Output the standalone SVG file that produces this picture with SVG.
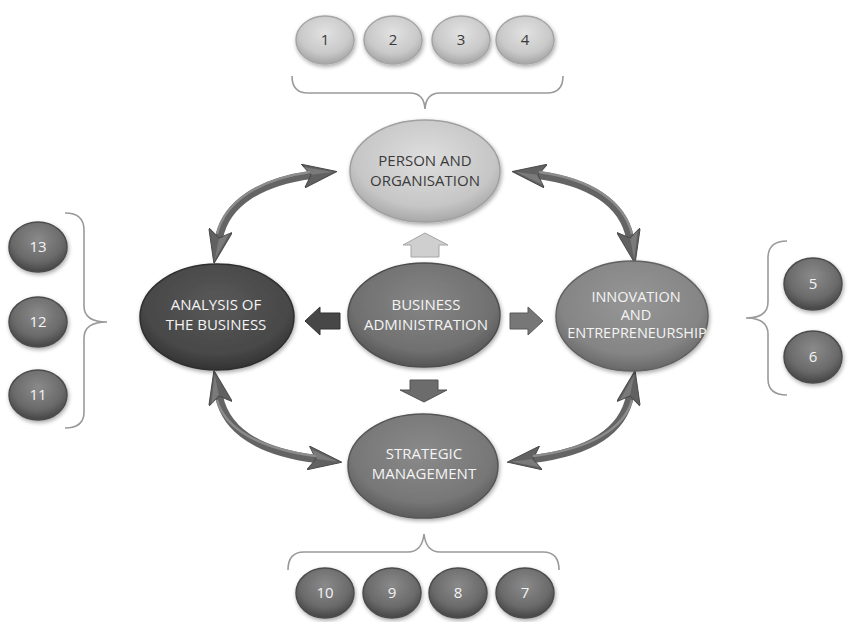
<svg xmlns="http://www.w3.org/2000/svg" width="854" height="622" viewBox="0 0 854 622">
  <defs>
    <radialGradient id="gLight" cx="50%" cy="38%" r="62%">
      <stop offset="0" stop-color="#dedede"/>
      <stop offset="0.75" stop-color="#c6c6c6"/>
      <stop offset="1" stop-color="#a8a8a8"/>
    </radialGradient>
    <radialGradient id="gMid" cx="50%" cy="38%" r="62%">
      <stop offset="0" stop-color="#858585"/>
      <stop offset="0.75" stop-color="#707070"/>
      <stop offset="1" stop-color="#555555"/>
    </radialGradient>
    <radialGradient id="gInno" cx="50%" cy="38%" r="62%">
      <stop offset="0" stop-color="#969696"/>
      <stop offset="0.75" stop-color="#858585"/>
      <stop offset="1" stop-color="#686868"/>
    </radialGradient>
    <radialGradient id="gStrat" cx="50%" cy="38%" r="62%">
      <stop offset="0" stop-color="#8a8a8a"/>
      <stop offset="0.75" stop-color="#777777"/>
      <stop offset="1" stop-color="#5c5c5c"/>
    </radialGradient>
    <radialGradient id="gDark" cx="50%" cy="38%" r="62%">
      <stop offset="0" stop-color="#585858"/>
      <stop offset="0.75" stop-color="#484848"/>
      <stop offset="1" stop-color="#333333"/>
    </radialGradient>
    <radialGradient id="gBall" cx="50%" cy="35%" r="62%">
      <stop offset="0" stop-color="#8a8a8a"/>
      <stop offset="0.7" stop-color="#6a6a6a"/>
      <stop offset="1" stop-color="#4a4a4a"/>
    </radialGradient>
    <radialGradient id="gBallLight" cx="50%" cy="35%" r="62%">
      <stop offset="0" stop-color="#e2e2e2"/>
      <stop offset="0.7" stop-color="#c9c9c9"/>
      <stop offset="1" stop-color="#aaaaaa"/>
    </radialGradient>
    <filter id="shadow" x="-20%" y="-20%" width="140%" height="150%">
      <feGaussianBlur in="SourceAlpha" stdDeviation="2"/>
      <feOffset dx="1" dy="2" result="b"/>
      <feComponentTransfer><feFuncA type="linear" slope="0.35"/></feComponentTransfer>
      <feMerge><feMergeNode/><feMergeNode in="SourceGraphic"/></feMerge>
    </filter>
    <!-- barbed head shared by both ends of every curved double arrow -->
    <marker id="head" viewBox="0 0 34 24" refX="8" refY="12" markerWidth="34" markerHeight="24" markerUnits="userSpaceOnUse" orient="auto-start-reverse">
      <path d="M0,0 L34,12 L0,24 L8,12 Z" fill="#616161" stroke="#4a4a4a" stroke-width="1"/>
      <path d="M2,3 L30,12 L9,12 Z" fill="#8a8a8a" opacity="0.6"/>
    </marker>
  </defs>
  <style>
    .brace { fill: none; stroke: #9a9a9a; stroke-width: 1.6; }
    .curve { fill: none; stroke: #646464; stroke-width: 8; marker-start: url(#head); marker-end: url(#head); }
    .curve-hi { fill: none; stroke: #8c8c8c; stroke-width: 2.5; }
    .node { stroke-width: 1.5; filter: url(#shadow); }
    .lbl { font-family: "Open Sans", "Noto Sans", "Liberation Sans", sans-serif; font-size: 15px; text-anchor: middle; }
    .lbl.sm { font-size: 14.5px; }
    .w { fill: #f4f4f4; }
    .d { fill: #3a3a3a; }
    .num { font-family: "Open Sans", "Noto Sans", "Liberation Sans", sans-serif; font-size: 15px; text-anchor: middle; }
  </style>

  <rect width="854" height="622" fill="#ffffff"/>

  <!-- braces -->
  <g id="braces">
    <path class="brace" d="M292,76 Q292,93 308,93 L410,93 Q424,93 425,109 Q426,93 440,93 L547,93 Q563,93 563,76"/>
    <path class="brace" d="M288,570 Q288,552 304,552 L408,552 Q422,552 424,534 Q426,552 440,552 L543,552 Q559,552 559,570"/>
    <path class="brace" d="M65,213 Q84,213 84,230 L84,306 Q84,322 107,322 Q84,322 84,338 L84,412 Q84,428 65,428"/>
    <path class="brace" d="M787,241 Q768,241 768,258 L768,302 Q768,318 746,318 Q768,318 768,334 L768,379 Q768,395 787,395"/>
  </g>

  <!-- connectors -->
  <g id="connectors">
    <path class="curve" d="M219,238 C226,203 260,182 311,175"/>
    <path class="curve" d="M630,238 C623,203 590,182 538,175"/>
    <path class="curve" d="M219,396 C226,431 260,452 316,459"/>
    <path class="curve" d="M630,396 C623,431 590,452 533,459"/>
    <path class="curve-hi" d="M217,234 C225,201 260,179 310,172"/>
    <path class="curve-hi" d="M632,234 C624,201 590,179 539,172"/>
    <path class="curve-hi" d="M217,400 C225,429 260,449 316,456"/>
    <path class="curve-hi" d="M632,400 C624,429 590,449 533,456"/>
    <!-- block arrows around the centre -->
    <path d="M425,233 L448,245 L439,245 L439,257 L411,257 L411,245 L403,245 Z" fill="#cfcfcf" stroke="#a5a5a5" stroke-width="1"/>
    <path d="M305,321 L320,307 L320,313 L340,313 L340,329 L320,329 L320,335 Z" fill="#474747" stroke="#333" stroke-width="1"/>
    <path d="M543,321 L528,307 L528,313 L510,313 L510,329 L528,329 L528,335 Z" fill="#777777" stroke="#5a5a5a" stroke-width="1"/>
    <path d="M424,402 L447,390 L438,390 L438,380 L410,380 L410,390 L400,390 Z" fill="#6c6c6c" stroke="#525252" stroke-width="1"/>
  </g>

  <!-- main nodes -->
  <g id="person">
    <ellipse class="node" cx="425" cy="171" rx="75" ry="51" fill="url(#gLight)" stroke="#a0a0a0"/>
    <text class="lbl d" x="425" y="166">PERSON AND</text>
    <text class="lbl d" x="425" y="186">ORGANISATION</text>
  </g>
  <g id="analysis">
    <ellipse class="node" cx="217" cy="317" rx="77" ry="53" fill="url(#gDark)" stroke="#2e2e2e"/>
    <text class="lbl w" x="216" y="310">ANALYSIS OF</text>
    <text class="lbl w" x="216" y="330">THE BUSINESS</text>
  </g>
  <g id="business">
    <ellipse class="node" cx="424" cy="315" rx="76" ry="52" fill="url(#gMid)" stroke="#4e4e4e"/>
    <text class="lbl w" x="426" y="310">BUSINESS</text>
    <text class="lbl w" x="426" y="330">ADMINISTRATION</text>
  </g>
  <g id="innovation">
    <ellipse class="node" cx="632" cy="316" rx="76" ry="55" fill="url(#gInno)" stroke="#626262"/>
    <text class="lbl sm w" x="636" y="302">INNOVATION</text>
    <text class="lbl sm w" x="636" y="320">AND</text>
    <text class="lbl sm w" x="637" y="338">ENTREPRENEURSHIP</text>
  </g>
  <g id="strategic">
    <ellipse class="node" cx="423" cy="466" rx="75" ry="52" fill="url(#gStrat)" stroke="#565656"/>
    <text class="lbl w" x="424" y="459">STRATEGIC</text>
    <text class="lbl w" x="424" y="479">MANAGEMENT</text>
  </g>

  <!-- numbered items -->
  <g id="n1"><ellipse class="node" cx="325" cy="40" rx="29" ry="24" fill="url(#gBallLight)" stroke="#a5a5a5"/><text class="num d" x="325" y="45">1</text></g>
  <g id="n2"><ellipse class="node" cx="393" cy="40" rx="29" ry="24" fill="url(#gBallLight)" stroke="#a5a5a5"/><text class="num d" x="393" y="45">2</text></g>
  <g id="n3"><ellipse class="node" cx="461" cy="40" rx="29" ry="24" fill="url(#gBallLight)" stroke="#a5a5a5"/><text class="num d" x="461" y="45">3</text></g>
  <g id="n4"><ellipse class="node" cx="525" cy="40" rx="29" ry="24" fill="url(#gBallLight)" stroke="#a5a5a5"/><text class="num d" x="525" y="45">4</text></g>

  <g id="n5"><ellipse class="node" cx="813" cy="284" rx="29" ry="26" fill="url(#gBall)" stroke="#4c4c4c"/><text class="num w" x="813" y="289">5</text></g>
  <g id="n6"><ellipse class="node" cx="813" cy="357" rx="29" ry="26" fill="url(#gBall)" stroke="#4c4c4c"/><text class="num w" x="813" y="362">6</text></g>

  <g id="n7"><ellipse class="node" cx="525" cy="593" rx="29" ry="25" fill="url(#gBall)" stroke="#4c4c4c"/><text class="num w" x="525" y="598">7</text></g>
  <g id="n8"><ellipse class="node" cx="458" cy="593" rx="29" ry="25" fill="url(#gBall)" stroke="#4c4c4c"/><text class="num w" x="458" y="598">8</text></g>
  <g id="n9"><ellipse class="node" cx="392" cy="593" rx="29" ry="25" fill="url(#gBall)" stroke="#4c4c4c"/><text class="num w" x="392" y="598">9</text></g>
  <g id="n10"><ellipse class="node" cx="325" cy="593" rx="29" ry="25" fill="url(#gBall)" stroke="#4c4c4c"/><text class="num w" x="325" y="598">10</text></g>

  <g id="n13"><ellipse class="node" cx="38" cy="247" rx="29" ry="25" fill="url(#gBall)" stroke="#4c4c4c"/><text class="num w" x="38" y="252">13</text></g>
  <g id="n12"><ellipse class="node" cx="38" cy="322" rx="29" ry="25" fill="url(#gBall)" stroke="#4c4c4c"/><text class="num w" x="38" y="327">12</text></g>
  <g id="n11"><ellipse class="node" cx="38" cy="395" rx="29" ry="25" fill="url(#gBall)" stroke="#4c4c4c"/><text class="num w" x="38" y="400">11</text></g>
</svg>
